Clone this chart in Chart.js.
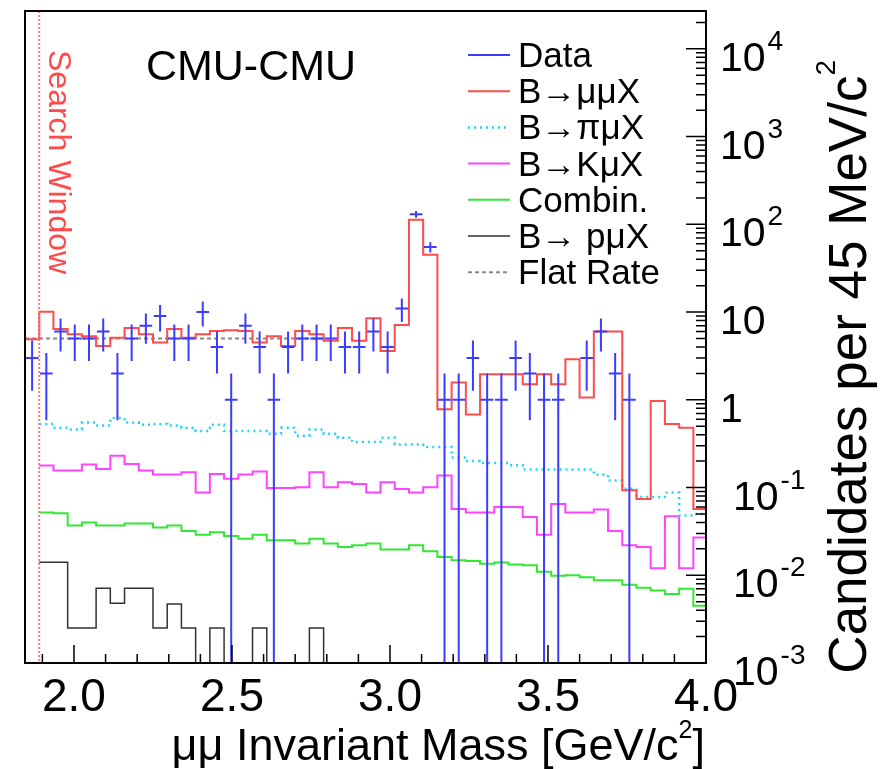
<!DOCTYPE html>
<html>
<head>
<meta charset="utf-8">
<title>CMU-CMU mu-mu invariant mass</title>
<script src="https://cdn.jsdelivr.net/npm/chart.js@4.4.1/dist/chart.umd.min.js"></script>
<style>
  html, body { margin: 0; padding: 0; background: #fff; }
  #wrap { width: 884px; height: 769px; }
</style>
</head>
<body>
<div id="wrap"><canvas id="chart" width="884" height="769"></canvas></div>
<script>
// binning: 48 bins of 45 MeV
const binStart = 1.845;
const binWidth = 0.045;
const xMin = 1.845, xMax = 4.0;
const yMin = 1e-3, yMax = 2.7e4;
const searchWindowLow = 1.89;

// data counts per bin
const dataCounts = [3, 2, 6, 5, 5, 6, 2, 5, 7, 9, 5, 5, 10, 4, 1, 7, 4, 1, 4, 5,
  5, 5, 4, 4, 6, 4, 11, 130, 55, 1, 1, 3, 1, 1, 3, 2, 1, 1, 0, 3,
  6, 2, 1, 0, 0, 0, 0, 0];

// expectations per bin (null = not filled)
const bmumuX = [4.9, 10.1, 6.4, 5.6, 5.3, 4.1, 5.1, 6.6, 5.6, 4.5, 6.4, 5.1, 5.6, 6.1, 6.2, 6.1, 4.5, 5.3, 4.1, 6.1,
  5.6, 4.7, 6.6, 4.7, 8.5, 3.6, 7.1, 113, 45, 0.78, 1.57, 0.68, 1.96, 1.96, 1.96, 1.5, 1.96, 1.5, 2.9, 1.06,
  6.0, 6.0, 0.093, 0.074, 0.97, 0.53, 0.48, 0.057];
const bpimuX = [null, 0.53, 0.48, 0.46, 0.55, 0.51, 0.62, 0.55, 0.52, 0.53, 0.51, 0.48, 0.44, 0.52, 0.44, 0.44, 0.44, 0.41, 0.48, 0.39,
  0.46, 0.41, 0.37, 0.33, 0.33, 0.37, 0.31, 0.31, 0.29, 0.29, 0.22, 0.2, 0.19, 0.19, 0.18, 0.16, 0.16, 0.16, 0.16, 0.16,
  0.14, 0.12, 0.097, 0.078, 0.078, 0.088, 0.048, 0.05];
const bKmuX = [null, 0.178, 0.156, 0.156, 0.183, 0.163, 0.231, 0.186, 0.156, 0.141, 0.141, 0.149, 0.088, 0.143, 0.126, 0.141, 0.152, 0.099, 0.099, 0.101,
  0.149, 0.101, 0.115, 0.11, 0.088, 0.115, 0.096, 0.088, 0.101, 0.137, 0.057, 0.052, 0.052, 0.06, 0.06, 0.046, 0.029, 0.065, 0.052, 0.052,
  0.056, 0.032, 0.022, 0.021, 0.012, 0.047, 0.012, 0.027];
const combin = [null, 0.052, 0.051, 0.037, 0.04, 0.037, 0.037, 0.039, 0.039, 0.035, 0.037, 0.032, 0.029, 0.031, 0.028, 0.026, 0.029, 0.025, 0.025, 0.023,
  0.026, 0.023, 0.021, 0.022, 0.023, 0.0196, 0.0196, 0.022, 0.0188, 0.0162, 0.0148, 0.0145, 0.0135, 0.014, 0.0133, 0.013, 0.011, 0.0099, 0.01, 0.0095,
  0.0088, 0.0088, 0.0078, 0.0072, 0.0067, 0.0061, 0.007, 0.0045];
const bpmuX = [null, 0.0141, 0.0141, 0.0025, 0.0025, 0.0071, 0.0048, 0.0071, 0.0071, 0.0025, 0.0047, 0.0025, 0, 0.0025, 0, 0, 0.0025, 0, 0, 0,
  0.0025, 0, 0, 0, 0, 0, 0, 0, 0, 0, 0, 0, 0, 0, 0, 0, 0, 0, 0, 0,
  0, 0, 0, 0, 0, 0, 0, 0];
const flatRateLevel = 5.0;
const flatRateRange = [1.845, 2.79];

// ticks and labels
const xTickValues = [2.0, 2.5, 3.0, 3.5, 4.0];
const yTickExponents = [-3, -2, -1, 0, 1, 2, 3, 4];
const legendLabels = ['Data', 'B\u2192\u03bc\u03bcX', 'B\u2192\u03c0\u03bcX', 'B\u2192K\u03bcX', 'Combin.', 'B\u2192 p\u03bcX', 'Flat Rate'];

const FONT = "'Liberation Sans', Arial, Helvetica, sans-serif";
const colors = {
    data: 'rgb(60,60,255)',
    mumu: '#ff4b4b',
    pimu: '#22d4f4',
    kmu: '#ff44ff',
    comb: '#33e833',
    pmu: '#333333',
    flat: '#888888'
};

// histogram outline: one point per left bin edge, plus the closing edge.
// empty bins sit on the axis floor of the log scale
function histPoints(values) {
    const floor = v => (v === 0 ? yMin : v);
    const pts = values.map((v, i) => ({ x: binStart + i * binWidth, y: v === null ? null : floor(v) }));
    pts.push({ x: binStart + values.length * binWidth, y: floor(values[values.length - 1]) });
    return pts;
}

const dataPoints = dataCounts
    .map((n, i) => ({ x: binStart + (i + 0.5) * binWidth, y: n, err: Math.sqrt(n) }))
    .filter(p => p.y > 0);

const histStyle = { stepped: 'before', pointRadius: 0, fill: false, spanGaps: false, tension: 0 };

// search window line and error bars for data
const errorBars = {
    id: 'errorBars',
    afterDatasetsDraw(chart) {
        const { ctx, chartArea, scales: { x, y } } = chart;
        const ds = chart.data.datasets[0];
        ctx.save();
        ctx.beginPath();
        ctx.rect(chartArea.left, chartArea.top, chartArea.width, chartArea.height);
        ctx.clip();

        const sx = x.getPixelForValue(searchWindowLow);
        ctx.strokeStyle = '#ff7878';
        ctx.lineWidth = 2;
        ctx.setLineDash([2, 2]);
        ctx.beginPath();
        ctx.moveTo(sx, chartArea.top);
        ctx.lineTo(sx, chartArea.bottom);
        ctx.stroke();
        ctx.setLineDash([]);

        ctx.strokeStyle = ds.borderColor;
        ctx.lineWidth = 2;
        ds.data.forEach(p => {
            const px = x.getPixelForValue(p.x);
            const py = y.getPixelForValue(p.y);
            const lo = y.getPixelForValue(Math.max(p.y - p.err, yMin));
            const hi = y.getPixelForValue(p.y + p.err);
            ctx.beginPath();
            ctx.moveTo(px, lo);
            ctx.lineTo(px, hi);
            ctx.moveTo(x.getPixelForValue(p.x - 0.02), py);
            ctx.lineTo(x.getPixelForValue(p.x + 0.02), py);
            ctx.stroke();
        });
        ctx.restore();
    }
};

// frame, ticks, axis labels, titles, legend
const decorations = {
    id: 'decorations',
    afterDraw(chart) {
        const { ctx, chartArea: a, scales: { x, y } } = chart;
        ctx.save();

        // ticks on the log axis (right side, pointing inward)
        ctx.strokeStyle = '#000';
        ctx.lineWidth = 1.5;
        ctx.beginPath();
        for (let e = -3; e <= 4; e++) {
            for (let m = 1; m <= 9; m++) {
                const v = m * Math.pow(10, e);
                if (v > yMax) break;
                const py = y.getPixelForValue(v);
                const len = m === 1 ? 20 : 10;
                ctx.moveTo(a.right, py);
                ctx.lineTo(a.right - len, py);
            }
        }
        // ticks on x axis
        for (let i = 0; i <= 21; i++) {
            const v = 1.9 + i * 0.1;
            const major = xTickValues.some(t => Math.abs(t - v) < 1e-6);
            const px = x.getPixelForValue(v);
            ctx.moveTo(px, a.bottom);
            ctx.lineTo(px, a.bottom - (major ? 18 : 9));
        }
        ctx.stroke();

        // frame
        ctx.lineWidth = 2;
        ctx.strokeRect(a.left, a.top, a.width, a.height);

        // y tick labels: 10^n
        ctx.fillStyle = '#000';
        ctx.textBaseline = 'alphabetic';
        ctx.textAlign = 'left';
        yTickExponents.forEach(e => {
            const py = y.getPixelForValue(Math.pow(10, e));
            const base = py + 22;
            const lx = e < 0 ? 733 : 720;
            ctx.font = '41px ' + FONT;
            if (e === 0) { ctx.fillText('1', lx, base); return; }
            ctx.fillText('10', lx, base);
            if (e === 1) return;
            const w = ctx.measureText('10').width;
            ctx.font = '28px ' + FONT;
            ctx.fillText(String(e), lx + w + 2, base - 21);
        });

        // x title
        ctx.textAlign = 'right';
        ctx.font = '45px ' + FONT;
        const xEnd = 705, xBase = 760;
        ctx.fillText(']', xEnd, xBase);
        let cur = xEnd - ctx.measureText(']').width;
        ctx.font = '25px ' + FONT;
        ctx.fillText('2', cur, xBase - 22);
        cur -= ctx.measureText('2').width;
        ctx.font = '45px ' + FONT;
        ctx.fillText('\u03bc\u03bc Invariant Mass [GeV/c', cur, xBase);

        // y title, reading upward
        ctx.save();
        ctx.translate(866, 60);
        ctx.rotate(-Math.PI / 2);
        ctx.textAlign = 'right';
        ctx.font = '28px ' + FONT;
        ctx.fillText('2', 0, -31);
        const sw = ctx.measureText('2').width;
        ctx.font = '53px ' + FONT;
        ctx.fillText('Candidates per 45 MeV/c', -sw, 0);
        ctx.restore();

        // Search Window label, reading downward
        ctx.save();
        ctx.translate(49, 50);
        ctx.rotate(Math.PI / 2);
        ctx.textAlign = 'left';
        ctx.fillStyle = '#ff4a4a';
        ctx.font = '32px ' + FONT;
        ctx.fillText('Search Window', 0, 0);
        ctx.restore();

        // channel label
        ctx.textAlign = 'center';
        ctx.font = '43px ' + FONT;
        ctx.fillText('CMU-CMU', 251, 80);

        // legend
        ctx.textAlign = 'left';
        ctx.font = '35px ' + FONT;
        chart.data.datasets.forEach((ds, i) => {
            const ry = 55 + i * 36.2;
            ctx.strokeStyle = ds.borderColor;
            ctx.lineWidth = ds.borderWidth || 2;
            ctx.setLineDash(ds.borderDash || []);
            ctx.beginPath();
            ctx.moveTo(468, ry);
            ctx.lineTo(510, ry);
            ctx.stroke();
            ctx.setLineDash([]);
            ctx.fillStyle = '#000';
            ctx.fillText(ds.label, 518, ry + 12);
        });

        ctx.restore();
    }
};

new Chart(document.getElementById('chart'), {
    type: 'line',
    data: {
        datasets: [
            { label: legendLabels[0], type: 'scatter', data: dataPoints, borderColor: colors.data, backgroundColor: colors.data,
              borderWidth: 2, pointRadius: 0, showLine: false, order: 0 },
            { label: legendLabels[1], data: histPoints(bmumuX), borderColor: colors.mumu, borderWidth: 2, ...histStyle, order: 1 },
            { label: legendLabels[2], data: histPoints(bpimuX), borderColor: colors.pimu, borderWidth: 2.5, borderDash: [2, 4], ...histStyle, order: 2 },
            { label: legendLabels[3], data: histPoints(bKmuX), borderColor: colors.kmu, borderWidth: 2, ...histStyle, order: 3 },
            { label: legendLabels[4], data: histPoints(combin), borderColor: colors.comb, borderWidth: 2, ...histStyle, order: 4 },
            { label: legendLabels[5], data: histPoints(bpmuX), borderColor: colors.pmu, borderWidth: 1.5, ...histStyle, order: 5 },
            { label: legendLabels[6], data: flatRateRange.map(v => ({ x: v, y: flatRateLevel })), borderColor: colors.flat,
              borderWidth: 2, borderDash: [4, 3], pointRadius: 0, fill: false, order: 6 }
        ]
    },
    options: {
        responsive: false,
        animation: false,
        layout: { padding: { top: 11, left: 25, right: 0, bottom: 0 } },
        plugins: { legend: { display: false }, tooltip: { enabled: false } },
        scales: {
            x: {
                type: 'linear',
                position: 'bottom',
                min: xMin,
                max: xMax,
                grid: { display: false, drawTicks: false },
                border: { display: false },
                afterBuildTicks: (scale) => { scale.ticks = xTickValues.map(v => ({ value: v })); },
                afterFit: (scale) => { scale.height = 106; },
                ticks: {
                    autoSkip: false,
                    maxRotation: 0,
                    padding: 8,
                    color: '#000',
                    font: { family: FONT, size: 46 },
                    callback: (v) => Number(v).toFixed(1)
                }
            },
            y: {
                type: 'logarithmic',
                position: 'right',
                min: yMin,
                max: yMax,
                grid: { display: false, drawTicks: false },
                border: { display: false },
                ticks: { display: false },
                afterFit: (scale) => { scale.width = 178; }
            }
        }
    },
    plugins: [errorBars, decorations]
});
</script>
</body>
</html>
